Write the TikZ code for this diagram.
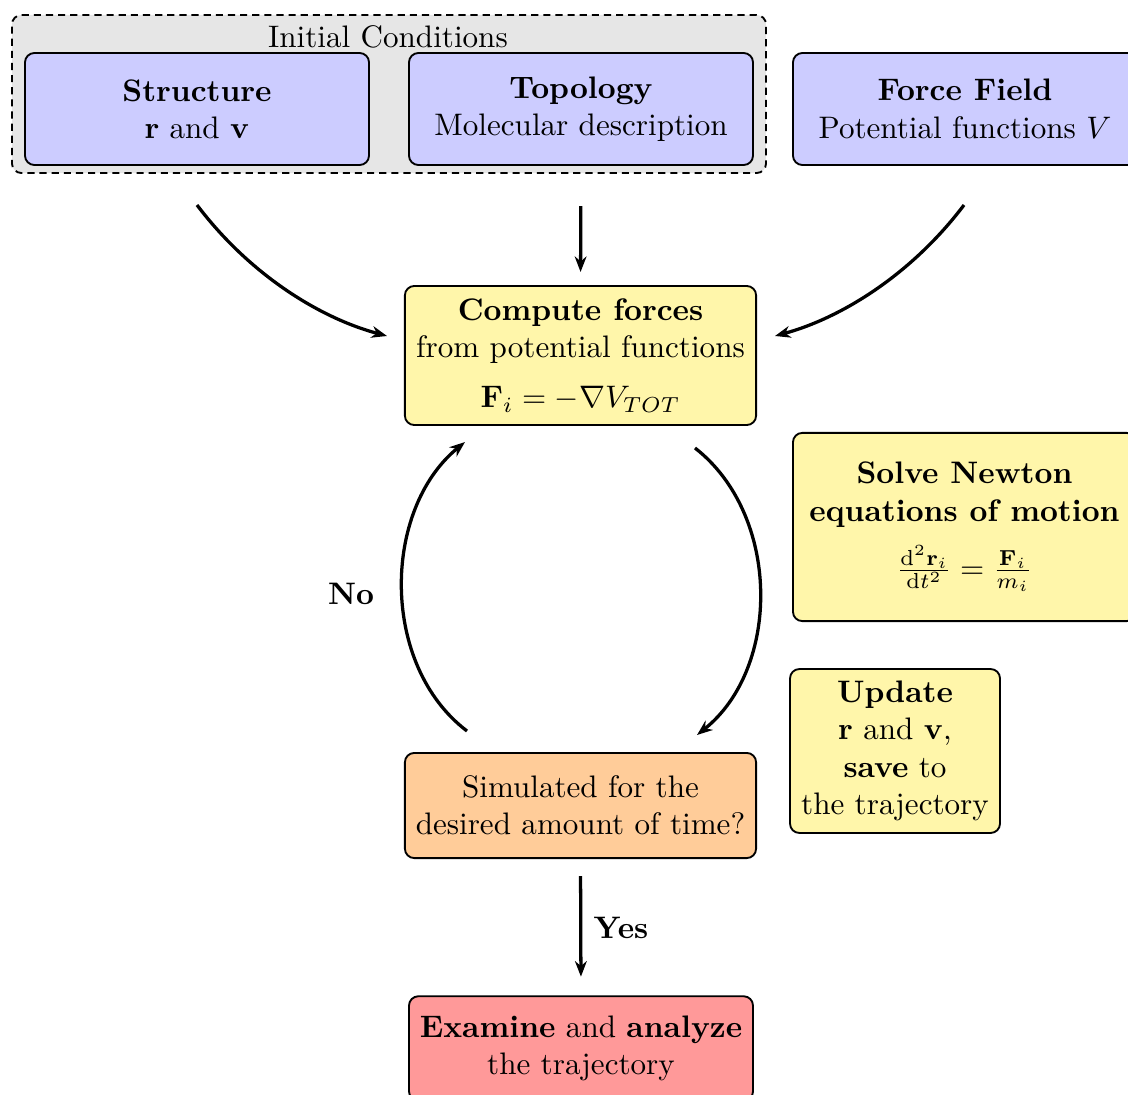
\documentclass[tikz,border=0pt]{standalone}
\usepackage{amsmath}
\usetikzlibrary{arrows.meta}
\definecolor{boxblue}{RGB}{204,204,255}
\definecolor{boxyellow}{RGB}{255,246,170}
\definecolor{boxorange}{RGB}{255,204,153}
\definecolor{boxred}{RGB}{255,153,153}
\definecolor{groupgray}{RGB}{230,230,230}
\begin{document}
\begin{tikzpicture}[x=0.3215pt, y=-0.3215pt,
  box/.style={draw, line width=0.6pt, rounded corners=3pt, align=center, inner sep=0pt},
  widebox/.style={box, minimum width=110.6pt},
  conn/.style={line width=1.05pt, -{Stealth[length=5pt, width=3.8pt, inset=1.6pt]}},
  group/.style={draw, dash pattern=on 2.3pt off 1.6pt, line width=0.6pt, rounded corners=3pt, fill=groupgray},
  lbl/.style={font=\bfseries}
]
\useasboundingbox (0,0) rectangle (1128,1095);
\clip (0,0) rectangle (1128,1095);

% group
\node[group, minimum width=242.4pt, minimum height=50.8pt] (init) at (389,94) {};
\node (initlbl) at (388,37) {Initial Conditions};

% top boxes
\node[widebox, fill=boxblue, minimum height=36pt] (struct) at (197,109)
  {\textbf{Structure}\\$\mathbf{r}$ and $\mathbf{v}$};
\node[widebox, fill=boxblue, minimum height=36pt] (topo) at (581,109)
  {\textbf{Topology}\\Molecular description};
\node[widebox, fill=boxblue, minimum height=36pt] (ff) at (965,109)
  {\textbf{Force Field}\\Potential functions $V$};

% compute forces
\node[box, fill=boxyellow, minimum width=112.9pt, minimum height=44.7pt] (comp) at (580.5,355.5)
  {\textbf{Compute forces}\\from potential functions\\[4pt]$\mathbf{F}_i = -\nabla V_{TOT}$};

% solve newton
\node[box, fill=boxyellow, minimum width=110.3pt, minimum height=60.5pt] (newton) at (964.5,527)
  {\textbf{Solve Newton}\\\textbf{equations of motion}\\[5pt]$\frac{\mathrm{d}^2\mathbf{r}_i}{\mathrm{d}t^2} = \frac{\mathbf{F}_i}{m_i}$};

% update
\node[box, fill=boxyellow, minimum width=67.5pt, minimum height=52.7pt] (upd) at (895,751)
  {\textbf{Update}\\$\mathbf{r}$ and $\mathbf{v}$,\\\textbf{save} to\\the trajectory};

% simulated
\node[box, fill=boxorange, minimum width=112.9pt, minimum height=33.8pt] (sim) at (580.5,805.5)
  {Simulated for the\\desired amount of time?};

% examine
\node[widebox, fill=boxred, minimum height=33.6pt] (exam) at (581,1048.5)
  {\textbf{Examine} and \textbf{analyze}\\the trajectory};

% labels
\node[lbl] (no) at (351,594) {No};
\node[lbl] (yes) at (621,928) {Yes};

% connector end points
\coordinate (a1s) at (197,205);
\coordinate (a1e) at (387,336);
\coordinate (a3s) at (964,205);
\coordinate (a3e) at (775,336);
\coordinate (ls) at (467,731);
\coordinate (le) at (465,442);
\coordinate (rs) at (695,448);
\coordinate (re) at (697,735);

% connectors
\draw[conn] (a1s) .. controls (250,275) and (320,318) .. (a1e);
\draw[conn, shorten <=12.9pt, shorten >=4.2pt] (topo.south) -- (comp.north);
\draw[conn] (a3s) .. controls (911,275) and (841,318) .. (a3e);
\draw[conn] (ls) .. controls (380,665) and (382,510) .. (le);
\draw[conn] (rs) .. controls (781,515) and (781,668) .. (re);
\draw[conn, shorten <=5.5pt, shorten >=6pt] (sim.south) -- (exam.north);
\end{tikzpicture}
\end{document}
